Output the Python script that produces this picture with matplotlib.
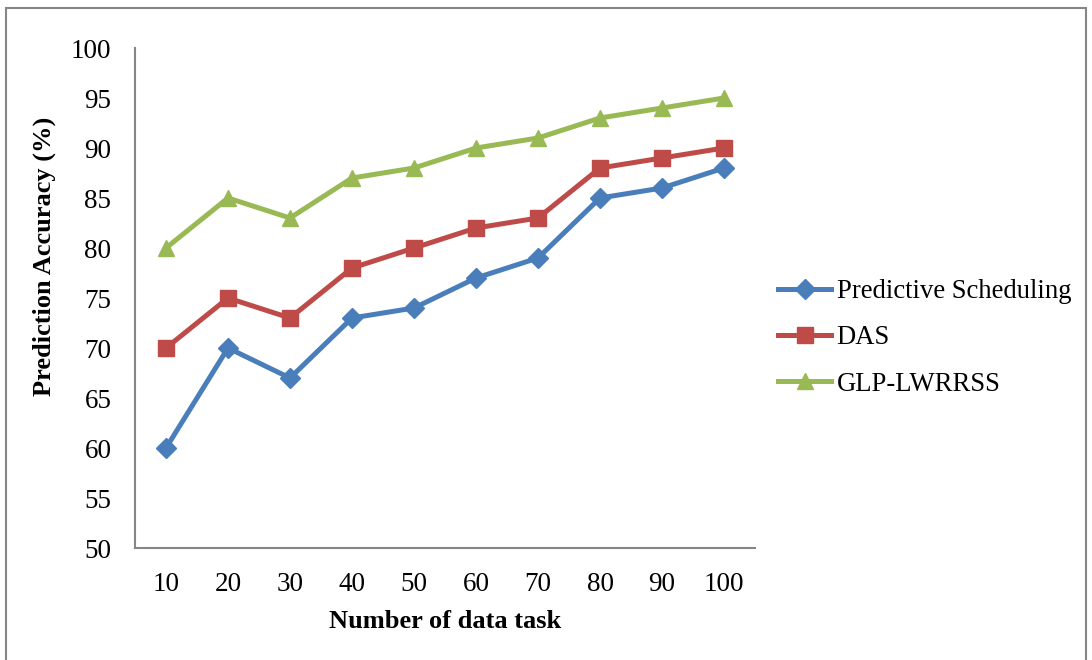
import matplotlib.pyplot as plt
from matplotlib.patches import Rectangle

# --- data ---
tasks = [10, 20, 30, 40, 50, 60, 70, 80, 90, 100]
predictive = [60, 70, 67, 73, 74, 77, 79, 85, 86, 88]
das = [70, 75, 73, 78, 80, 82, 83, 88, 89, 90]
glp = [80, 85, 83, 87, 88, 90, 91, 93, 94, 95]
y_ticks = list(range(50, 101, 5))

plt.rcParams['font.family'] = ['Liberation Serif', 'DejaVu Serif']

fig = plt.figure(figsize=(10.92, 6.6), dpi=100)
ax = fig.add_axes([135 / 1092, 1 - 548 / 660, (755 - 135) / 1092, (548 - 48) / 660])

pos = list(range(len(tasks)))
ax.plot(pos, predictive, color='#4A7EBB', lw=3.6, marker='D', ms=10, label='Predictive Scheduling')
ax.plot(pos, das, color='#BE4B48', lw=3.6, marker='s', ms=12, label='DAS')
ax.plot(pos, glp, color='#98B954', lw=3.6, marker='^', ms=12, label='GLP-LWRRSS')

ax.set_xlim(-0.5, len(tasks) - 0.5)
ax.set_ylim(50, 100)
ax.set_yticks(y_ticks)
ax.set_xticks(pos)
ax.set_xticklabels([str(t) for t in tasks])
ax.tick_params(length=0, labelsize=19.5)
ax.tick_params(axis='y', pad=17)
ax.tick_params(axis='x', pad=17)

for s in ['top', 'right']:
    ax.spines[s].set_visible(False)
for s in ['left', 'bottom']:
    ax.spines[s].set_color('#868686')
    ax.spines[s].set_linewidth(1.5)

ax.set_xlabel('Number of data task', fontsize=19, fontweight='bold', labelpad=10)
ax.set_ylabel('Prediction Accuracy (%)', fontsize=19, fontweight='bold')
ax.yaxis.set_label_coords(-0.128, 0.584)

ax.legend(loc='center left', bbox_to_anchor=(778 / 1092, 1 - 338 / 660),
          bbox_transform=fig.transFigure, borderaxespad=0, borderpad=0,
          frameon=False, fontsize=19.2,
          handlelength=2.0, handletextpad=0.2, labelspacing=0.8)

# outer chart border
fig.patches.append(Rectangle((6 / 1092, -0.05), (1086 - 6) / 1092, 1.05 - 8 / 660,
                             transform=fig.transFigure, fill=False,
                             edgecolor='#868686', lw=1.5))

fig.savefig('out.png', dpi=100)
